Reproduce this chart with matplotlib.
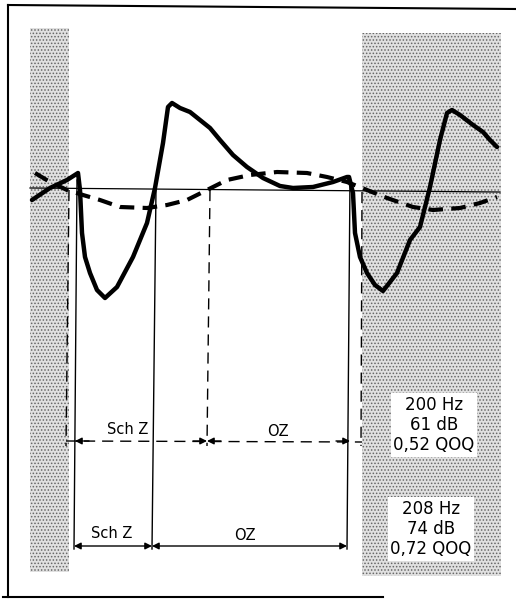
import matplotlib.pyplot as plt
from matplotlib.patches import Rectangle

# solid curve (x, y in picture units, y downwards)
solid_x = [32, 50, 67, 78, 80, 82, 85, 90, 97, 105, 117, 133, 147, 155, 163, 168, 172,
           180, 190, 200, 210, 220, 233, 247, 263, 280, 293, 313, 333, 347, 349,
           353, 355, 360, 367, 375, 383, 397, 410, 420, 430, 440, 447, 452, 460, 473, 483, 490, 497]
solid_y = [200, 188, 180, 173, 190, 233, 257, 273, 290, 298, 287, 257, 223, 188, 143, 107, 103,
           108, 112, 120, 128, 140, 155, 167, 178, 186, 188, 187, 182, 177, 177,
           193, 233, 257, 273, 285, 291, 273, 240, 227, 187, 140, 113, 110, 115, 125, 132, 140, 147]

# dashed curve
dash_x = [35, 50, 67, 83, 100, 120, 147, 167, 187, 207, 227, 250, 277, 307, 327, 347,
          367, 387, 413, 433, 460, 480, 497]
dash_y = [173, 182, 190, 195, 200, 207, 208, 205, 200, 190, 180, 175, 172, 173, 177, 182,
          190, 198, 207, 210, 208, 203, 197]

base_x = [30, 500]
base_y = [188, 192]

# vertical guides: (x_top, x_bottom, y_top, y_bottom)
solid_vlines = [(77, 74, 180, 549), (156, 152, 188, 549), (350, 347, 178, 549)]
dashed_vlines = [(69, 66, 190, 446), (210, 207, 190, 446), (362, 361, 192, 446)]

# dimension arrows
dashed_spans = [(75, 207), (207, 350)]
dashed_y = 441
dashed_labels = [("Sch Z", 128, 429), ("OZ", 278, 431)]
solid_spans = [(74, 152), (152, 347)]
solid_y_arr = 546
solid_labels = [("Sch Z", 112, 533), ("OZ", 245, 535)]

boxes = [("200 Hz\n61 dB\n0,52 QOQ", 434, 425), ("208 Hz\n74 dB\n0,72 QOQ", 431, 529)]

fig = plt.figure(figsize=(5.16, 6.01), dpi=100)
ax = fig.add_axes([0, 0, 1, 1])
ax.set_xlim(0, 516)
ax.set_ylim(601, 0)
ax.axis('off')

plt.rcParams['hatch.linewidth'] = 0.7
for x0, y0, w, h in [(30, 28, 39, 544), (362, 33, 139, 543)]:
    ax.add_patch(Rectangle((x0, y0), w, h, facecolor='#e0e0e0', edgecolor='#666666',
                           hatch='.....', lw=0, zorder=0))

# white boxes for text
for txt, cx, cy in boxes:
    ax.text(cx, cy, txt, ha='center', va='center', fontsize=12, linespacing=1.15,
            family='DejaVu Sans', zorder=5,
            bbox=dict(facecolor='white', edgecolor='none', pad=2))

# frame
ax.plot([8, 8], [5, 597], color='black', lw=1.5)
ax.plot([8, 516], [5, 9], color='black', lw=1.5)
ax.plot([3, 383], [597, 597], color='black', lw=1.5)

ax.plot(base_x, base_y, color='black', lw=0.9, zorder=2)

for xt, xb, yt, yb in solid_vlines:
    ax.plot([xt, xb], [yt, yb], color='black', lw=1.0, zorder=2)
for xt, xb, yt, yb in dashed_vlines:
    ax.plot([xt, xb], [yt, yb], color='black', lw=1.0, ls=(0, (8, 5)), zorder=2)

ax.plot(solid_x, solid_y, color='black', lw=3.2, solid_capstyle='round',
        solid_joinstyle='round', zorder=3)
ax.plot(dash_x, dash_y, color='black', lw=3.0, ls=(0, (3.5, 2)), zorder=3)

# dashed dimension line with solid heads
ax.plot([66, 362], [dashed_y, dashed_y + 1], color='black', lw=1.0, ls=(0, (8, 5)))
for a, b in dashed_spans:
    ax.annotate('', xy=(a, dashed_y), xytext=(a + 14, dashed_y),
                arrowprops=dict(arrowstyle='-|>', color='black', lw=1.0,
                                mutation_scale=10, shrinkA=0, shrinkB=0))
    ax.annotate('', xy=(b, dashed_y), xytext=(b - 14, dashed_y),
                arrowprops=dict(arrowstyle='-|>', color='black', lw=1.0,
                                mutation_scale=10, shrinkA=0, shrinkB=0))
for txt, x, y in dashed_labels:
    ax.text(x, y, txt, ha='center', va='center', fontsize=10.5, family='DejaVu Sans')

for a, b in solid_spans:
    ax.annotate('', xy=(a, solid_y_arr), xytext=(b, solid_y_arr),
                arrowprops=dict(arrowstyle='<|-|>', color='black', lw=1.0,
                                mutation_scale=10, shrinkA=0, shrinkB=0))
for txt, x, y in solid_labels:
    ax.text(x, y, txt, ha='center', va='center', fontsize=10.5, family='DejaVu Sans')

fig.savefig('out.png', dpi=100)
